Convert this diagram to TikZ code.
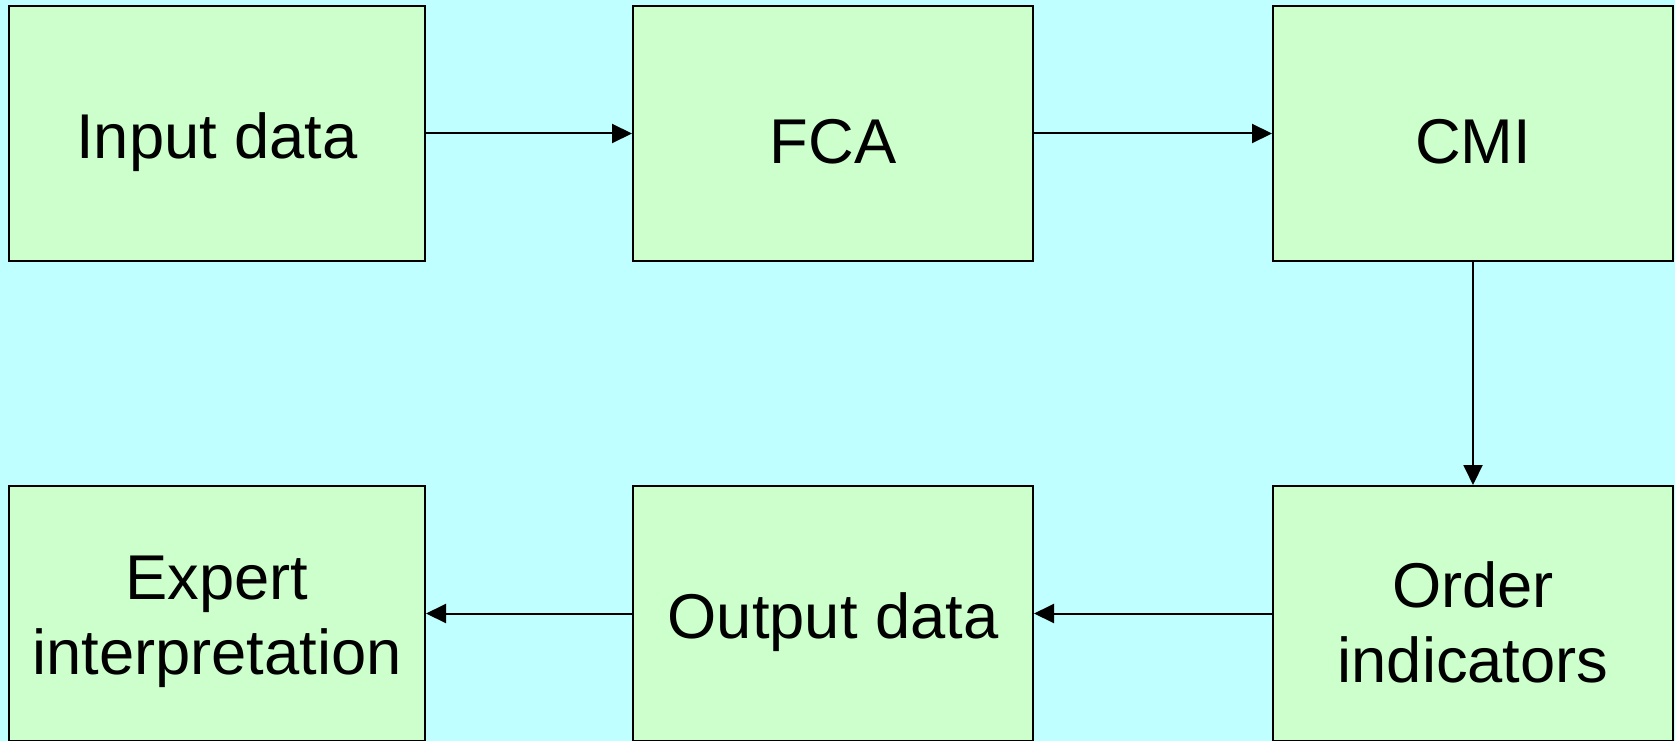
\documentclass[tikz,border=0pt]{standalone}
\usepackage{fontspec}
\setmainfont{Liberation Sans}
\usetikzlibrary{arrows.meta}
\definecolor{bgcyan}{HTML}{C0FFFF}
\definecolor{boxgreen}{HTML}{CCFFCC}
\tikzset{
  blk/.style={draw=black, line width=2pt, fill=boxgreen, minimum height=255pt, inner sep=0pt},
  txt/.style={align=center, inner sep=0pt, font=\fontsize{63.3}{75}\selectfont},
  conn/.style={line width=2pt, -{Triangle[length=20pt,width=19pt]}}
}
\begin{document}
\begin{tikzpicture}[x=1pt,y=-1pt]
\useasboundingbox (0,0) rectangle (1675,741);
\clip (0,0) rectangle (1675,741);
\fill[bgcyan] (0,0) rectangle (1675,741);
\node[blk, minimum width=416pt] (in) at (217,133.5) {};
\node[blk, minimum width=400pt] (fca) at (833,133.5) {};
\node[blk, minimum width=400pt] (cmi) at (1473,133.5) {};
\node[blk, minimum width=416pt] (exp) at (217,613.5) {};
\node[blk, minimum width=400pt] (out) at (833,613.5) {};
\node[blk, minimum width=400pt] (ord) at (1473,613.5) {};
\node[txt] (tin) at ([yshift=-8.5pt]in.center) {Input data};
\node[txt] (tfca) at ([yshift=-8.5pt]fca.center) {FCA};
\node[txt] (tcmi) at ([yshift=-8.5pt]cmi.center) {CMI};
\node[txt] (texp) at ([yshift=-8.5pt]exp.center) {Expert\\interpretation};
\node[txt] (tout) at ([yshift=-8.5pt]out.center) {Output data};
\node[txt] (tord) at ([yshift=-8.5pt]ord.center) {Order\\indicators};
\draw[conn] (in) -- (fca);
\draw[conn] (fca) -- (cmi);
\draw[conn] (cmi) -- (ord);
\draw[conn] (ord) -- (out);
\draw[conn] (out) -- (exp);
\end{tikzpicture}
\end{document}
